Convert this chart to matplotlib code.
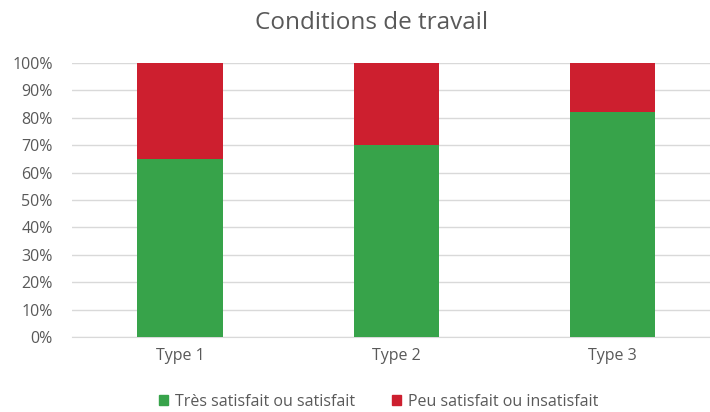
import matplotlib
matplotlib.use("Agg")
import matplotlib.pyplot as plt
from matplotlib.ticker import PercentFormatter
from matplotlib.patches import Patch

categories = ["Type 1", "Type 2", "Type 3"]
satisfied = [65, 70, 82]
unsatisfied = [35, 30, 18]
labels = ["Très satisfait ou satisfait", "Peu satisfait ou insatisfait"]

GREEN = "#37A34A"
RED = "#CD1F2F"
TEXT = "#595959"
GRID = "#D9D9D9"

plt.rcParams["font.family"] = ["Open Sans", "DejaVu Sans"]

fig = plt.figure(figsize=(7.1, 4.12), dpi=100)
ax = fig.add_axes([72 / 710, 75 / 412, 638 / 710, 274 / 412])

x = list(range(len(categories)))
ax.bar(x, satisfied, width=0.395, color=GREEN, zorder=3)
ax.bar(x, unsatisfied, width=0.395, bottom=satisfied, color=RED, zorder=3)

ax.set_xlim(-0.5, 2.45)
ax.set_ylim(0, 100)
ax.set_yticks(range(0, 101, 10))
ax.yaxis.set_major_formatter(PercentFormatter(decimals=0))
ax.set_xticks(x)
ax.set_xticklabels(categories)

ax.grid(axis="y", color=GRID, linewidth=1, zorder=0)
for s in ["top", "right", "left"]:
    ax.spines[s].set_visible(False)
ax.spines["bottom"].set_color(GRID)
ax.tick_params(axis="both", length=0, colors=TEXT, labelsize=11.5)
ax.tick_params(axis="x", pad=8)
ax.tick_params(axis="y", pad=14)

fig.text(0.523, 0.945, "Conditions de travail", ha="center", va="center",
         fontsize=17.5, color=TEXT)

handles = [Patch(color=GREEN, label=labels[0]), Patch(color=RED, label=labels[1])]
fig.legend(handles=handles, loc="center", bbox_to_anchor=(0.533, 0.025),
           ncol=2, frameon=False, fontsize=11.5, labelcolor=TEXT,
           handlelength=0.6, handleheight=0.6, handletextpad=0.4,
           columnspacing=2.3)

fig.savefig("out.png", dpi=100)
